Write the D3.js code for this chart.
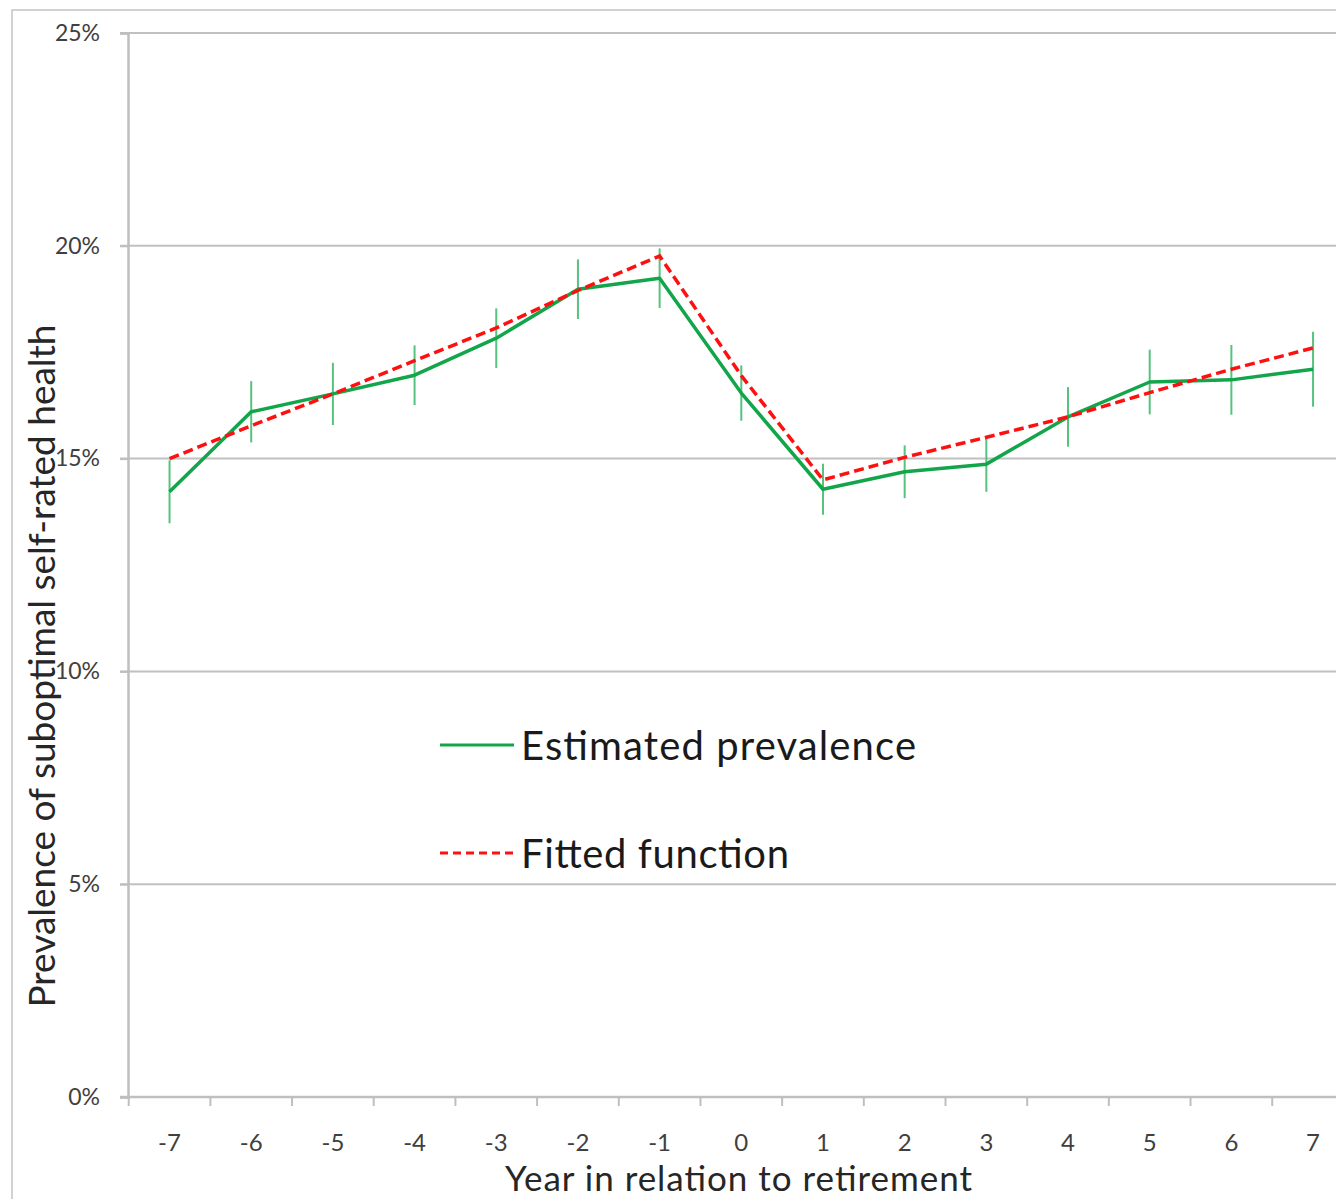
<!DOCTYPE html>
<html>
<head>
<meta charset="utf-8">
<script src="https://cdn.jsdelivr.net/npm/d3@7"></script>
<style>
  html, body { margin: 0; padding: 0; background: #fff; }
  svg { display: block; }
  text { font-family: Lato, "Open Sans", sans-serif; }
</style>
</head>
<body>
<svg id="chart" width="1336" height="1199"></svg>
<script>
// Years relative to retirement
const years = [-7, -6, -5, -4, -3, -2, -1, 0, 1, 2, 3, 4, 5, 6, 7];
// Estimated prevalence of suboptimal self-rated health (%)
const estimated = [14.22, 16.10, 16.52, 16.96, 17.83, 18.98, 19.24, 16.54, 14.28, 14.69, 14.87, 15.98, 16.80, 16.85, 17.10];
// Half-width of the confidence interval (%)
const ciHalf = [0.74, 0.72, 0.73, 0.70, 0.70, 0.70, 0.70, 0.65, 0.60, 0.62, 0.65, 0.70, 0.76, 0.82, 0.88];
// Fitted piecewise function (%)
const fitted = [15.00, 15.77, 16.52, 17.30, 18.07, 18.95, 19.76, 16.95, 14.50, 15.03, 15.50, 15.98, 16.55, 17.10, 17.60];
// Y-axis ticks (%)
const yTicks = [0, 5, 10, 15, 20, 25];

const svg = d3.select("#chart");
const W = 1336, H = 1199;

const x = d3.scaleBand().domain(years).range([128.7, 1353.9]).padding(0);
const y = d3.scaleLinear().domain([0, 25]).range([1097, 33]);
const cx = d => x(d) + x.bandwidth() / 2;

// outer chart frame
svg.append("rect")
  .attr("x", 12).attr("y", 10).attr("width", W).attr("height", H)
  .attr("fill", "none").attr("stroke", "#c4c4c4").attr("stroke-width", 1.5);

// horizontal gridlines
svg.append("g").selectAll("line").data(yTicks.filter(t => t > 0)).join("line")
  .attr("x1", 120).attr("x2", W)
  .attr("y1", d => y(d)).attr("y2", d => y(d))
  .attr("stroke", "#c0c0c0").attr("stroke-width", 2);

// y axis
const yAxis = svg.append("g").attr("transform", "translate(128,0)")
  .call(d3.axisLeft(y).tickValues(yTicks).tickFormat(d => d + "%").tickSize(8).tickPadding(20));
yAxis.select(".domain").attr("stroke", "#bfbfbf").attr("stroke-width", 2.5);
yAxis.selectAll(".tick line").attr("stroke", "#bfbfbf").attr("stroke-width", 2);
yAxis.selectAll(".tick text").attr("fill", "#404040").style("font-size", "23px")
  .style("font-family", "Lato, sans-serif");

// x axis: ticks on category boundaries
const xAxisG = svg.append("g").attr("transform", "translate(0,1097)");
xAxisG.append("line").attr("x1", 120).attr("x2", W).attr("y1", 0).attr("y2", 0)
  .attr("stroke", "#bfbfbf").attr("stroke-width", 2.5);
xAxisG.selectAll("line.tk").data(years).join("line").attr("class", "tk")
  .attr("x1", d => x(d)).attr("x2", d => x(d)).attr("y1", 0).attr("y2", 9)
  .attr("stroke", "#bfbfbf").attr("stroke-width", 2);
xAxisG.selectAll("text").data(years).join("text")
  .attr("x", d => cx(d)).attr("y", 54)
  .attr("text-anchor", "middle").attr("fill", "#404040")
  .style("font-size", "24px")
  .text(d => String(d).replace("\u2212", "-"));

// axis titles
svg.append("text")
  .attr("x", 738.5).attr("y", 1191).attr("text-anchor", "middle")
  .attr("fill", "#262626").style("font-size", "35px")
  .attr("textLength", 467).attr("lengthAdjust", "spacing")
  .text("Year in relation to retirement");
svg.append("text")
  .attr("transform", "translate(55,666) rotate(-90)")
  .attr("text-anchor", "middle").attr("fill", "#262626").style("font-size", "37px")
  .attr("textLength", 683).attr("lengthAdjust", "spacing")
  .text("Prevalence of suboptimal self-rated health");

// confidence interval bars
svg.append("g").selectAll("line").data(years).join("line")
  .attr("x1", d => cx(d)).attr("x2", d => cx(d))
  .attr("y1", (d, i) => y(estimated[i] + ciHalf[i]))
  .attr("y2", (d, i) => y(estimated[i] - ciHalf[i]))
  .attr("stroke", "#55c27e").attr("stroke-width", 2);

const line = d3.line().x(d => cx(d[0])).y(d => y(d[1]));

// estimated prevalence
svg.append("path")
  .datum(years.map((d, i) => [d, estimated[i]]))
  .attr("d", line).attr("fill", "none")
  .attr("stroke", "#12a54a").attr("stroke-width", 3.5).attr("stroke-linejoin", "round");

// fitted function
svg.append("path")
  .datum(years.map((d, i) => [d, fitted[i]]))
  .attr("d", line).attr("fill", "none")
  .attr("stroke", "#ff1010").attr("stroke-width", 3.5).attr("stroke-dasharray", "10,5");

// legend
const legend = [
  { label: "Estimated prevalence", color: "#12a54a", dash: null, yy: 745, base: 760, len: 395 },
  { label: "Fitted function", color: "#ff1010", dash: "8,5", yy: 853, base: 868, len: 268 }
];
const lg = svg.append("g").selectAll("g").data(legend).join("g");
lg.append("line").attr("x1", 440).attr("x2", 514)
  .attr("y1", d => d.yy).attr("y2", d => d.yy)
  .attr("stroke", d => d.color).attr("stroke-width", 3)
  .attr("stroke-dasharray", d => d.dash);
lg.append("text").attr("x", 521).attr("y", d => d.base)
  .attr("fill", "#1a1a1a").style("font-size", "40px")
  .attr("textLength", d => d.len).attr("lengthAdjust", "spacing")
  .text(d => d.label);
</script>
</body>
</html>
